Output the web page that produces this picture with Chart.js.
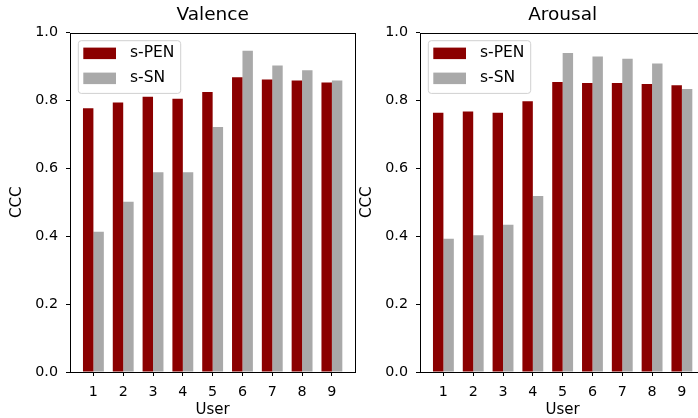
<!DOCTYPE html>
<html>
<head>
<meta charset="utf-8">
<script src="https://cdn.jsdelivr.net/npm/chart.js@4.4.0/dist/chart.umd.min.js"></script>
<style>
  html, body { margin: 0; padding: 0; background: #fff; }
  #wrap { position: relative; width: 698px; height: 418px; overflow: hidden; background: #fff; }
  .panel { position: absolute; top: 0; width: 360px; height: 418px; }
  canvas { display: block; }
</style>
</head>
<body>
<div id="wrap">
  <div class="panel" style="left:0px"><canvas id="c1" width="360" height="418"></canvas></div>
  <div class="panel" style="left:350px"><canvas id="c2" width="360" height="418"></canvas></div>
</div>
<script>
// ---- data ----
const users = [1, 2, 3, 4, 5, 6, 7, 8, 9];
const seriesNames = ['s-PEN', 's-SN'];
const valencePEN = [0.777, 0.794, 0.811, 0.805, 0.825, 0.869, 0.862, 0.859, 0.853];
const valenceSN  = [0.413, 0.502, 0.589, 0.589, 0.722, 0.947, 0.903, 0.889, 0.859];
const arousalPEN = [0.764, 0.768, 0.764, 0.798, 0.855, 0.852, 0.852, 0.849, 0.845];
const arousalSN  = [0.393, 0.403, 0.434, 0.519, 0.940, 0.930, 0.923, 0.909, 0.834];
const yTicks = [0.0, 0.2, 0.4, 0.6, 0.8, 1.0];
const panelTitles = ['Valence', 'Arousal'];
const xLabel = 'User';
const yLabel = 'CCC';

const colors = ['#8b0000', '#a9a9a9'];
const FONT = "'DejaVu Sans', sans-serif";

const framePlugin = {
  id: 'frame',
  afterDatasetsDraw(chart) {
    const {ctx, chartArea: a} = chart;
    ctx.save();
    ctx.strokeStyle = '#000';
    ctx.lineWidth = 1;
    ctx.strokeRect(Math.round(a.left) + 0.5, Math.round(a.top) + 0.5,
                   Math.round(a.right) - Math.round(a.left), Math.round(a.bottom) - Math.round(a.top));
    ctx.restore();
  }
};

const legendPlugin = {
  id: 'innerLegend',
  afterDraw(chart) {
    const {ctx, chartArea: a} = chart;
    const x0 = a.left + 8.3, y0 = a.top + 8, w = 102.4, h = 52.7, r = 3;
    ctx.save();
    ctx.beginPath();
    ctx.moveTo(x0 + r, y0);
    ctx.arcTo(x0 + w, y0, x0 + w, y0 + h, r);
    ctx.arcTo(x0 + w, y0 + h, x0, y0 + h, r);
    ctx.arcTo(x0, y0 + h, x0, y0, r);
    ctx.arcTo(x0, y0, x0 + w, y0, r);
    ctx.closePath();
    ctx.fillStyle = 'rgba(255,255,255,0.8)';
    ctx.fill();
    ctx.strokeStyle = '#d0d0d0';
    ctx.lineWidth = 1;
    ctx.stroke();
    chart.data.datasets.forEach((ds, i) => {
      const cy = a.top + 20.6 + i * 25;
      ctx.fillStyle = ds.backgroundColor;
      ctx.fillRect(a.left + 13.3, cy - 5.7, 32.7, 11.5);
      ctx.fillStyle = '#000';
      ctx.font = '15.5px ' + FONT;
      ctx.textBaseline = 'middle';
      ctx.textAlign = 'left';
      ctx.fillText(ds.label, a.left + 60, cy);
    });
    ctx.restore();
  }
};

function makeChart(id, title, pen, sn) {
  const datasets = [pen, sn].map((vals, i) => ({
    label: seriesNames[i],
    data: users.map((u, k) => ({x: u, y: vals[k]})),
    backgroundColor: colors[i],
    borderWidth: 0,
    categoryPercentage: 0.7,
    barPercentage: 1.0
  }));
  return new Chart(document.getElementById(id), {
    type: 'bar',
    data: { datasets },
    plugins: [framePlugin, legendPlugin],
    options: {
      responsive: false,
      animation: false,
      devicePixelRatio: 1,
      layout: { padding: { left: 0, right: 4.7, top: 0, bottom: 0 } },
      plugins: {
        legend: { display: false },
        tooltip: { enabled: false },
        title: {
          display: true,
          fullSize: false,
          text: title,
          color: '#000',
          font: { family: FONT, size: 18.5, weight: 'normal', lineHeight: 1.2 },
          padding: { top: 3.6, bottom: 6.9 }
        }
      },
      scales: {
        x: {
          type: 'linear',
          min: 0.215,
          max: 9.785,
          offset: false,
          grid: { display: true, drawOnChartArea: false, drawTicks: true, tickLength: 4, color: '#000', offset: false },
          border: { display: false },
          afterBuildTicks(scale) { scale.ticks = users.map(v => ({ value: v })); },
          afterFit(scale) { scale.height = 46; },
          ticks: {
            color: '#000', padding: 8, maxRotation: 0, autoSkip: false,
            font: { family: FONT, size: 14.3 },
            callback: v => String(v)
          },
          title: { display: true, text: xLabel, color: '#000', padding: { top: 0, bottom: -1.5 },
                   font: { family: FONT, size: 15, lineHeight: 1.2 } }
        },
        y: {
          min: 0,
          max: 1,
          grid: { display: true, drawOnChartArea: false, drawTicks: true, tickLength: 4, color: '#000' },
          border: { display: false },
          afterBuildTicks(scale) { scale.ticks = yTicks.map(v => ({ value: v })); },
          afterFit(scale) { scale.width = 70; },
          ticks: {
            color: '#000', padding: 8,
            font: { family: FONT, size: 14.3 },
            callback: v => Number(v).toFixed(1)
          },
          title: { display: true, text: yLabel, color: '#000', padding: { top: 8, bottom: 0 },
                   font: { family: FONT, size: 15, lineHeight: 1.2 } }
        }
      }
    }
  });
}

makeChart('c1', panelTitles[0], valencePEN, valenceSN);
makeChart('c2', panelTitles[1], arousalPEN, arousalSN);
</script>
</body>
</html>
